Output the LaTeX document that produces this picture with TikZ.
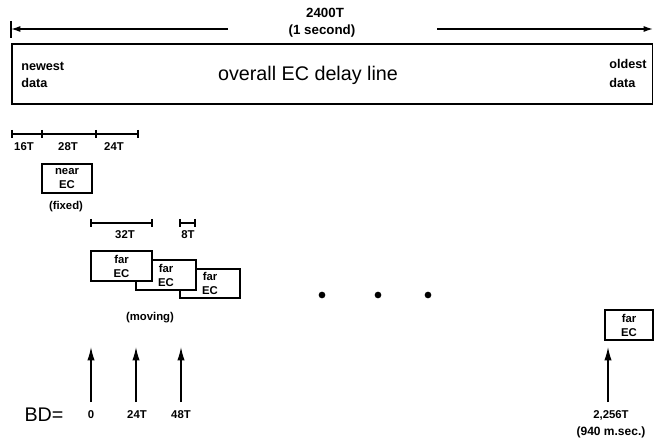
\documentclass[tikz,border=0pt]{standalone}
\usepackage{fontspec}
\setmainfont{Liberation Sans}
\usetikzlibrary{arrows.meta}
\begin{document}
\begin{tikzpicture}[x=0.75pt,y=-0.75pt,
  lbl/.style={font=\fontsize{8.5}{10.5}\selectfont\bfseries, inner sep=0pt},
  midlbl/.style={font=\fontsize{10}{12}\selectfont\bfseries, inner sep=0pt},
  sidelbl/.style={font=\fontsize{9.5}{12.5}\selectfont\bfseries, inner sep=0pt, anchor=west},
  big/.style={font=\fontsize{14.8}{17}\selectfont, inner sep=0pt},
  ecbox/.style={draw, line width=1.1pt, fill=white, align=center, inner sep=0pt,
    font=\fontsize{8.5}{10.5}\selectfont\bfseries},
  scalebar/.style={line width=0.8pt},
  spanarrow/.style={line width=1pt, -{Latex[length=7pt,width=4.5pt]}},
  uparrow/.style={line width=1pt, -{Latex[length=10pt,width=5.5pt]}},
  dot/.style={circle, fill=black, inner sep=0pt, minimum size=5pt}
]
\useasboundingbox (0,0) rectangle (654,442);

% ---- top span arrow ----
\node[midlbl] (span) at (325,13) {2400T};
\node[midlbl] (sec) at (322,31) {(1 second)};
\coordinate (la) at (228,29);
\coordinate (tl) at (11,29);
\coordinate (ra) at (437,29);
\coordinate (tr) at (653,29);
\draw[spanarrow] (la) -- (tl);
\draw[spanarrow] (ra) -- (tr);
\draw[line width=1pt] (11,21) -- (11,38);

% ---- overall delay line ----
\draw[line width=1.1pt] (12,44) rectangle (652.5,104);
\node[sidelbl] (new1) at (21,66) {newest};
\node[sidelbl] (new2) at (21,83) {data};
\node[sidelbl] (old1) at (609,64) {oldest};
\node[sidelbl] (old2) at (609,83) {data};
\node[big] (overall) at (308,75) {overall EC delay line};

% ---- near-EC scale ----
\draw[scalebar] (12,134) -- (138,134);
\foreach \x in {12,42,96,138} \draw[scalebar] (\x,130) -- (\x,138);
\node[lbl] (s16) at (24,147) {16T};
\node[lbl] (s28) at (68,147) {28T};
\node[lbl] (s24) at (114,147) {24T};

\node[ecbox, minimum width=37.5pt, minimum height=21.75pt] (near) at (67,178.5) {near\\EC};
\node[lbl] (fixed) at (66,207) {(fixed)};

% ---- far-EC scales ----
\draw[scalebar] (91,223) -- (152,223);
\draw[scalebar] (91,219) -- (91,227);
\draw[scalebar] (152,219) -- (152,227);
\node[lbl] (s32) at (125,235) {32T};
\draw[scalebar] (180,223) -- (195,223);
\draw[scalebar] (180,219) -- (180,227);
\draw[scalebar] (195,219) -- (195,227);
\node[lbl] (s8) at (188,235) {8T};

% ---- far-EC boxes ----
\node[ecbox, minimum width=45pt, minimum height=21.75pt] (far3) at (210,283.5) {far\\EC};
\node[ecbox, minimum width=45pt, minimum height=22.5pt] (far2) at (166,275) {far\\EC};
\node[ecbox, minimum width=45.75pt, minimum height=22.5pt] (far1) at (121.5,266) {far\\EC};
\node[lbl] (moving) at (150,318) {(moving)};

% ---- dots ----
\node[dot] (d1) at (322,295) {};
\node[dot] (d2) at (378,295) {};
\node[dot] (d3) at (428,295) {};

% ---- last far EC ----
\node[ecbox, minimum width=36pt, minimum height=22.5pt] (farN) at (629,325) {far\\EC};

% ---- bulk-delay arrows ----
\node[big] (bd) at (44,415) {BD=};
\node[lbl] (b0) at (91,415) {0};
\node[lbl] (b24) at (137,415) {24T};
\node[lbl] (b48) at (181,415) {48T};
\node[lbl] (bN) at (611,415) {2,256T};
\node[lbl, font=\fontsize{9}{11}\selectfont\bfseries] (bNms) at (611,432) {(940 m.sec.)};

\coordinate (a0s) at (91,402);   \coordinate (a0e) at (91,347);
\coordinate (a24s) at (136,402); \coordinate (a24e) at (136,347);
\coordinate (a48s) at (181,402); \coordinate (a48e) at (181,347);
\coordinate (aNs) at (608,402);  \coordinate (aNe) at (608,347);
\draw[uparrow] (a0s) -- (a0e);
\draw[uparrow] (a24s) -- (a24e);
\draw[uparrow] (a48s) -- (a48e);
\draw[uparrow] (aNs) -- (aNe);
\end{tikzpicture}
\end{document}
